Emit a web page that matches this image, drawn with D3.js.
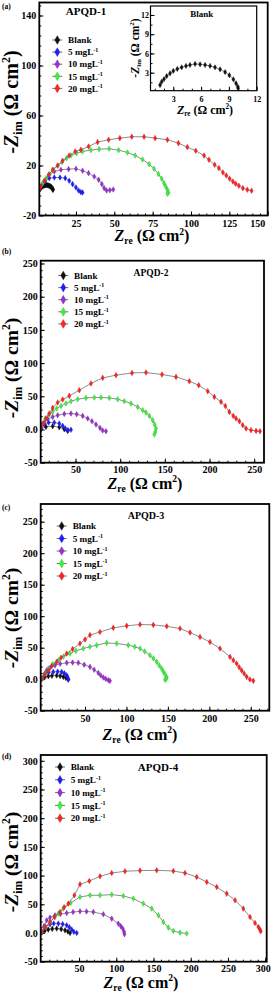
<!DOCTYPE html>
<html>
<head>
<meta charset="utf-8">
<script src="https://cdn.jsdelivr.net/npm/d3@7"></script>
<style>
body { margin: 0; background: #fff; }
svg { display: block; font-family: "Liberation Serif", "Times New Roman", serif; font-weight: bold; }
</style>
</head>
<body>
<svg id="chart" width="274" height="992"></svg>
<script>
// legend entries
var seriesNames = ["Blank", "5 mgL", "10 mgL", "15 mgL", "20 mgL"];
var seriesSup = ["", "-1", "-1", "-1", "-1"];
var seriesColors = ["#111111", "#1d1dff", "#9c30d0", "#3ef03e", "#ff2222"];

// blank (inset of (a)), Zre vs -Zim
var blankA = [[1.57,1.08],[1.75,1.6],[2.0,2.0],[2.29,2.48],[2.65,2.9],[3.0,3.27],[3.43,3.58],[3.9,3.84],[4.37,4.05],[4.8,4.2],[5.35,4.36],[5.89,4.3],[6.43,4.2],[6.97,4.05],[7.5,3.84],[8.05,3.52],[8.59,3.1],[9.05,2.6],[9.48,1.97],[9.77,1.34],[9.96,0.81],[10.0,0.56]];

// (a) APQD-1
var a5 = [[1.1,0.6],[2.9,4.6],[5,7.8],[7.6,9.9],[10.9,10.4],[14.6,10.4],[18,9.9],[20.6,7.8],[22.8,5.1],[25,2.4],[26.7,0],[28.2,-1.3],[29.3,-1.6]];
var a10 = [[1.6,1.9],[4.4,7.2],[7.6,12.6],[10.9,15.2],[15.2,16.6],[20.2,17.1],[25,17.4],[29.3,15.8],[33.2,13.9],[36.9,11.2],[39.8,8.6],[41.9,5.1],[43.4,1.9],[45,0],[47.1,0.3],[49.3,0.8]];
var a15 = [[1.1,1.9],[3.3,5.9],[5.5,9.9],[7.6,13.1],[10.2,16.6],[13.1,20],[15.9,22.7],[18.9,25.9],[21.7,28],[25.4,29.9],[29.3,31.2],[34.7,32.3],[40.1,33.1],[46.6,33.4],[52.8,32.3],[58.6,30.4],[63.6,28],[68.4,24.8],[72.7,21.1],[75.9,17.4],[78.8,13.1],[80.9,9.4],[82.4,5.9],[83.5,3.2],[84.6,0.6],[85.3,-1.6],[84.6,-2.6]];
var a20 = [[1.1,0.8],[2.2,3.2],[4.4,7.8],[7.2,12.6],[9.8,16.6],[13.1,20],[16.3,23.8],[20.6,28],[24.5,31.2],[28.2,32.6],[33.2,35.2],[39.1,38.7],[46.3,40.6],[53.6,41.9],[61.4,43],[69.4,43],[76.6,41.9],[84.6,40.6],[91.8,37.9],[97.6,34.7],[103.1,31.8],[108.5,28],[111.7,24.6],[115.4,20.6],[118.2,17.9],[120.8,14.4],[123,12],[125.2,9.4],[127.3,7.2],[129.1,5.4],[131.2,3.8],[133.8,1.9],[136.7,0.6],[139.5,-0.2]];

// (b) APQD-2
var bBlank = [[11.3,0.5],[16.9,4],[24.4,5],[31.8,3.5],[37.4,0.5],[41.2,-2.1]];
var b5 = [[11.3,2.4],[15,7.5],[19.9,10.5],[26.2,10.5],[31.8,9],[35.6,5.4],[38.5,1.5],[41.5,-1],[44.9,-0.5]];
var b10 = [[11.3,4],[15,10.5],[18.8,15.5],[24.4,19],[30,21.5],[37.4,23.5],[44.9,24.1],[51.3,23],[58,20.5],[63.6,16.6],[68.4,12.5],[72.9,7.5],[77.4,2.4],[80.4,-1.5],[84.1,-2.6]];
var b15 = [[10.2,1.5],[13.2,9],[16.1,16.6],[19.9,21.5],[24.4,26.5],[28.9,31.6],[33.7,35.5],[39.3,39.2],[44.9,42.6],[52.4,45.6],[61.7,47.6],[71,48.2],[78.5,48.2],[87.8,47.6],[97.2,45.6],[104.6,42.6],[112.1,39.2],[119.6,34],[125.2,29.1],[128.9,25.6],[132.6,20.5],[136.4,14],[138.6,7.5],[140.1,1.5],[139.3,-3.6],[138.2,-7.5]];
var b20 = [[11.3,1.5],[13.9,9],[16.9,16.6],[20.6,24.1],[24.4,32.5],[30,40.7],[35.6,45.2],[43,50.6],[54.2,59.2],[67.3,69.3],[80.4,77.7],[95.3,81.8],[113.2,85.2],[128.9,85.8],[146.8,82.8],[162.5,79.2],[177.4,72.7],[187.9,66.7],[198,57.7],[205.4,49.1],[212.9,41.6],[217.7,35.5],[222.2,26.5],[226.6,20.5],[229.7,16.6],[233.4,12.5],[237.2,6.5],[240.9,1.5],[246.5,-1],[252.1,-2.1],[256.5,-2.6]];

// (c) APQD-3
var cBlank = [[-2.3,1],[1.5,3.5],[5.7,4.7],[10,5.5],[15.8,5.8],[20,5],[23.8,3.7],[27,2],[29.8,-0.5]];
var c5 = [[-1.5,1],[1.7,9],[6,11],[11.7,11.6],[17,12],[21.8,11.6],[25,9.5],[27.9,6.3],[29,3],[29.8,-0.5]];
var c10 = [[-1.5,1.5],[1,8],[3.7,14],[8,18.5],[13.8,22],[20,24.5],[27.9,26],[35,26.5],[41.9,26],[49,23],[56,19.5],[61,15],[66,10],[69,6],[72.1,2.7],[75,0.5],[78.1,-1.6],[80.1,-2.6]];
var c15 = [[-2,1],[1.5,9],[5.7,17],[11,24],[17.8,30],[24,36],[31.9,40.7],[39,45],[47.9,48.7],[56,51.5],[64.1,54],[76.2,57.6],[88.2,56.6],[102.2,54],[110,51.5],[116.4,48.7],[122,44],[128.4,38],[132.5,33],[136.5,27.5],[139.5,22],[142.5,17],[144.5,12],[146.5,8],[148.6,3],[148,0.5],[146.5,-1]];
var c20 = [[-2.3,1],[1.5,7],[5.7,14],[10,21],[15.8,27.5],[21,34],[27.9,40.7],[35,48],[43.9,56.6],[50,63],[56,70],[68,75],[84.1,81.5],[100.3,84.7],[116.4,86.8],[132.4,86.2],[148.6,84],[164.6,80.4],[176.7,74],[188.8,67],[200.8,59],[212.9,48.7],[225,35.4],[229,30],[233,25],[236,19],[239,14],[242,9],[245.1,3.7],[249,-0.5],[253.1,-2.6]];

// (d) APQD-4
var dBlank = [[0,1.7],[4,4],[8.7,5.9],[14,7.2],[20,7.7],[26,6.8],[31.2,4.7],[35,2.5],[37.9,0]];
var d5 = [[0,1],[4.3,10.5],[11,15.2],[16,16.5],[22.2,16.4],[28,15.5],[33.4,13.4],[37,10],[40.2,5.9],[43,2],[46.9,0]];
var d10 = [[0,1],[3,12],[6.6,22.1],[11,27],[17.7,30.8],[25,33],[33.4,34.8],[42,36.5],[51.3,37.8],[60,37.5],[69.2,36.6],[82.6,32.6],[93.9,25],[102.7,16.4],[106,12],[108.6,7.7],[110.4,2],[111,-2]];
var d15 = [[0,1],[5,10],[11,19],[17.7,27.9],[22.2,33.8],[28.9,42.5],[38.8,52.3],[51.3,62.7],[64.7,65.7],[78.2,65.7],[93.9,66.9],[109.5,64.5],[122.9,59.9],[136.3,51.2],[147.6,42.5],[156.5,30.8],[163.2,19.2],[169.9,9.4],[176.6,3.5],[185.6,0.7],[194.6,-1]];
var d20 = [[0,1.7],[5,10],[11,19.2],[17,28],[24.4,36.6],[30,45],[35.6,51.2],[43.7,65.7],[51.3,84.8],[63.8,90.6],[78.2,98.8],[93.9,104.5],[111.7,107.5],[131.9,108.7],[154.3,109.2],[176.6,108],[192.3,104.5],[208,97.6],[221.5,88.9],[234.9,80.1],[248.3,68.6],[259.5,57],[270.6,42.5],[279.6,27.9],[286.3,17.4],[290.8,10.5],[293,5.9],[294,3]];

// tick values
var aXTicks = [25, 50, 75, 100, 125, 150];
var aYTicks = [-20, 20, 60, 100, 140];
var insetTicks = [3, 6, 9, 12];
var bXTicks = [50, 100, 150, 200, 250];
var bYTicks = [-50, 0, 50, 100, 150, 200, 250];
var dXTicks = [50, 100, 150, 200, 250, 300];
var dYTicks = [-50, 0, 50, 100, 150, 200, 250, 300];

var svg = d3.select("#chart");
var symbol = d3.symbol().type(d3.symbolDiamond);

function fmtPlain(d) { return String(d); }
function fmtZero(d) { return d === 0 ? "0.0" : String(d); }

// -Zim (Ω cm2) / Zre (Ω cm2) with sub/superscripts
function axisTitle(t, sym, sub, size) {
  t.append("tspan").attr("font-style", "italic").text(sym);
  t.append("tspan").attr("font-size", size * 0.6).attr("dy", size * 0.2).text(sub);
  t.append("tspan").attr("dy", -size * 0.2).text(" (\u03A9 cm");
  t.append("tspan").attr("font-size", size * 0.6).attr("dy", -size * 0.4).text("2");
  t.append("tspan").attr("dy", size * 0.4).text(")");
}

function drawPanel(p) {
  var g = svg.append("g");
  var x = d3.scaleLinear().domain(p.xDomain).range([p.left, p.right]);
  var y = d3.scaleLinear().domain(p.yDomain).range([p.bottom, p.top]);

  // minor ticks, inward
  g.append("g").attr("transform", "translate(0," + p.bottom + ")")
    .call(d3.axisBottom(x).tickValues(p.xMinor).tickSize(-2).tickFormat(""));
  g.append("g").attr("transform", "translate(" + p.left + ",0)")
    .call(d3.axisLeft(y).tickValues(p.yMinor).tickSize(-2).tickFormat(""));

  var xa = g.append("g").attr("transform", "translate(0," + p.bottom + ")")
    .call(d3.axisBottom(x).tickValues(p.xTicks).tickSizeInner(-4).tickSizeOuter(0)
      .tickPadding(p.xPad).tickFormat(p.xFormat));
  var ya = g.append("g").attr("transform", "translate(" + p.left + ",0)")
    .call(d3.axisLeft(y).tickValues(p.yTicks).tickSizeInner(-4).tickSizeOuter(0)
      .tickPadding(p.yPad).tickFormat(p.yFormat));

  g.selectAll(".domain").remove();
  g.selectAll(".tick line").attr("stroke", "#000").attr("stroke-width", 1);
  g.selectAll(".tick text").attr("font-family", "Liberation Serif, serif")
    .attr("font-weight", "bold").attr("font-size", p.tickFont).attr("fill", "#000");
  // last x label pulled inside the frame, as in the figure
  if (p.lastEnd) {
    xa.selectAll(".tick text").filter(function(d) { return d === p.xTicks[p.xTicks.length - 1]; })
      .attr("text-anchor", "end").attr("dx", p.lastEnd);
  }

  var clipId = "clip" + p.id;
  g.append("clipPath").attr("id", clipId).append("rect")
    .attr("x", p.left).attr("y", p.top).attr("width", p.right - p.left).attr("height", p.bottom - p.top);
  var plot = g.append("g").attr("clip-path", "url(#" + clipId + ")");
  var line = d3.line().x(function(d) { return x(d[0]); }).y(function(d) { return y(d[1]); });
  p.series.forEach(function(data, i) {
    var col = p.colors ? p.colors[i] : seriesColors[i];
    plot.append("path").datum(data).attr("d", line)
      .attr("fill", "none").attr("stroke", "#707070").attr("stroke-width", 0.8);
    plot.selectAll(null).data(data).enter().append("path")
      .attr("transform", function(d) { return "translate(" + x(d[0]) + "," + y(d[1]) + ")"; })
      .attr("d", symbol.size(p.markSize)())
      .attr("fill", col).attr("stroke", d3.color(col).darker(0.8)).attr("stroke-width", 0.4);
  });

  g.append("rect").attr("x", p.left).attr("y", p.top)
    .attr("width", p.right - p.left).attr("height", p.bottom - p.top)
    .attr("fill", "none").attr("stroke", "#000").attr("stroke-width", p.frameW);

  // axis titles
  var yt = g.append("text")
    .attr("transform", "translate(" + p.yTitle[0] + "," + p.yTitle[1] + ") rotate(-90)")
    .attr("text-anchor", "middle").attr("font-size", p.yTitleSize);
  axisTitle(yt, "-Z", "im", p.yTitleSize);
  var xt = g.append("text").attr("x", p.xTitle[0]).attr("y", p.xTitle[1])
    .attr("text-anchor", "middle").attr("font-size", p.xTitleSize);
  axisTitle(xt, "Z", "re", p.xTitleSize);

  if (p.title) {
    g.append("text").attr("x", p.title[0]).attr("y", p.title[1])
      .attr("text-anchor", "middle").attr("font-size", p.titleSize).text(p.title[2]);
  }
  if (p.tag) {
    g.append("text").attr("x", 2).attr("y", p.tag[1]).attr("font-size", 7.5).text(p.tag[0]);
  }

  if (p.legend) {
    var lg = g.append("g");
    seriesNames.forEach(function(name, i) {
      var cy = p.legend.y + i * p.legend.dy;
      lg.append("line").attr("x1", p.legend.x - 5).attr("x2", p.legend.x + 5)
        .attr("y1", cy).attr("y2", cy).attr("stroke", "#707070").attr("stroke-width", 1);
      lg.append("path").attr("transform", "translate(" + p.legend.x + "," + cy + ")")
        .attr("d", symbol.size(22)()).attr("fill", seriesColors[i])
        .attr("stroke", d3.color(seriesColors[i]).darker(0.8)).attr("stroke-width", 0.4);
      var t = lg.append("text").attr("x", p.legend.tx).attr("y", cy + 3.2).attr("font-size", 9.2).text(name);
      if (seriesSup[i]) t.append("tspan").attr("font-size", 6).attr("dy", -3.5).text(seriesSup[i]);
    });
  }
}

drawPanel({
  id: "a", left: 39.3, right: 267.7, top: 2.5, bottom: 215.5,
  xDomain: [1.1, 150], yDomain: [-20, 150.4],
  xTicks: aXTicks, yTicks: aYTicks, xMinor: d3.range(5, 150, 5), yMinor: d3.range(-12, 150, 8),
  xFormat: fmtPlain, yFormat: fmtPlain, xPad: 4, yPad: 3, tickFont: 10, lastEnd: -3,
  series: [blankA, a5, a10, a15, a20], markSize: 9, frameW: 1.8,
  yTitle: [18, 102], yTitleSize: 20, xTitle: [152, 241], xTitleSize: 16,
  title: [86, 15, "APQD-1"], titleSize: 11, tag: ["(a)", 9],
  legend: { x: 57.3, y: 40, dy: 12.1, tx: 68 }
});

// inset of (a): blank alone
drawPanel({
  id: "ai", left: 150.5, right: 256.7, top: 6, bottom: 90.7,
  xDomain: [0.54, 12], yDomain: [0.19, 13.4],
  xTicks: insetTicks, yTicks: insetTicks, xMinor: d3.range(1, 12, 1), yMinor: d3.range(1.5, 13, 1.5),
  xFormat: fmtPlain, yFormat: fmtPlain, xPad: 6, yPad: 1.5, tickFont: 8,
  series: [blankA], colors: ["#111111"], markSize: 8, frameW: 1.2,
  yTitle: [138.5, 48], yTitleSize: 11.5, xTitle: [205, 114], xTitleSize: 12,
  title: [201.7, 17.3, "Blank"], titleSize: 9
});

drawPanel({
  id: "b", left: 40.7, right: 264, top: 260.7, bottom: 462.7,
  xDomain: [11, 261], yDomain: [-50, 254.2],
  xTicks: bXTicks, yTicks: bYTicks, xMinor: d3.range(20, 261, 10), yMinor: d3.range(-40, 254, 10),
  xFormat: fmtPlain, yFormat: fmtZero, xPad: 3, yPad: 3, tickFont: 10,
  series: [bBlank, b5, b10, b15, b20], markSize: 9, frameW: 1.8,
  yTitle: [18, 368], yTitleSize: 19.5, xTitle: [145, 488.5], xTitleSize: 16,
  title: [151, 276, "APQD-2"], titleSize: 9.5, tag: ["(b)", 254],
  legend: { x: 63.3, y: 275.5, dy: 12.1, tx: 74 }
});

drawPanel({
  id: "c", left: 40.7, right: 269.3, top: 504, bottom: 710.7,
  xDomain: [-3.5, 272.4], yDomain: [-50, 278.1],
  xTicks: bXTicks, yTicks: bYTicks, xMinor: d3.range(10, 272, 10), yMinor: d3.range(-40, 278, 10),
  xFormat: fmtPlain, yFormat: fmtZero, xPad: 4, yPad: 3, tickFont: 10,
  series: [cBlank, c5, c10, c15, c20], markSize: 9, frameW: 1.8,
  yTitle: [18, 618], yTitleSize: 19.5, xTitle: [140, 739.5], xTitleSize: 16,
  title: [146, 519, "APQD-3"], titleSize: 10, tag: ["(c)", 510],
  legend: { x: 61.7, y: 526, dy: 12.5, tx: 72.7 }
});

drawPanel({
  id: "d", left: 40.7, right: 266.7, top: 755, bottom: 961.7,
  xDomain: [-1.5, 302], yDomain: [-50, 310.1],
  xTicks: dXTicks, yTicks: dYTicks, xMinor: d3.range(10, 302, 10), yMinor: d3.range(-40, 310, 10),
  xFormat: fmtPlain, yFormat: fmtZero, xPad: 3, yPad: 3, tickFont: 10, lastEnd: 5,
  series: [dBlank, d5, d10, d15, d20], markSize: 9, frameW: 1.8,
  yTitle: [18, 862], yTitleSize: 19.5, xTitle: [141, 987.5], xTitleSize: 16,
  title: [158, 770.5, "APQD-4"], titleSize: 11, tag: ["(d)", 759],
  legend: { x: 60, y: 767, dy: 12.8, tx: 70.7 }
});
</script>
</body>
</html>
